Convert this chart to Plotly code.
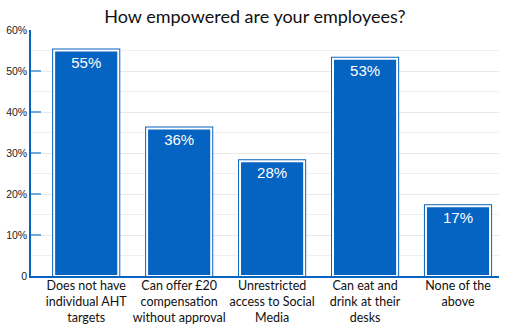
import plotly.graph_objects as go

categories = [
    "Does not have<br>individual AHT<br>targets",
    "Can offer £20<br>compensation<br>without approval",
    "Unrestricted<br>access to Social<br>Media",
    "Can eat and<br>drink at their<br>desks",
    "None of the<br>above",
]
values = [55, 36, 28, 53, 17]
tick_vals = [0, 10, 20, 30, 40, 50, 60]
tick_text = ["0", "10%", "20%", "30%", "40%", "50%", "60%"]

BLUE = "#0563C1"
BAR_W = 0.69

fig = go.Figure()
# outer blue rim
fig.add_trace(go.Bar(
    x=categories, y=values, width=BAR_W,
    marker=dict(color=BLUE, line=dict(color=BLUE, width=4)),
    hoverinfo="skip", showlegend=False,
))
# white inner ring + fill with value label
fig.add_trace(go.Bar(
    x=categories, y=values, width=BAR_W,
    marker=dict(color=BLUE, line=dict(color="white", width=2)),
    text=[f"{v}%" for v in values], textposition="inside",
    insidetextanchor="end",
    textfont=dict(family="Liberation Sans, Arial", size=15, color="white"),
    showlegend=False,
))

fig.update_layout(
    width=510, height=325,
    margin=dict(l=31, r=11, t=30, b=49),
    barmode="overlay",
    plot_bgcolor="white", paper_bgcolor="white",
    title=dict(
        text="How empowered are your employees?",
        x=0.5, xanchor="center", y=0.95, yanchor="middle",
        font=dict(family="Lato, Open Sans, sans-serif", size=18, color="#111111"),
    ),
    xaxis=dict(
        automargin=False, tickangle=0,
        range=[-0.594, 4.441],
        showline=True, linecolor=BLUE, linewidth=1.5,
        tickfont=dict(family="Lato, Open Sans, sans-serif", size=12.5, color="#111111"),
        ticks="", ticklabelstandoff=-3,
    ),
    yaxis=dict(
        automargin=False,
        range=[0, 60],
        tickvals=tick_vals, ticktext=tick_text,
        showline=True, linecolor=BLUE, linewidth=1.5,
        ticks="inside", ticklen=10, tickcolor="#6FA8DC", tickwidth=2,
        showgrid=True, gridcolor="#E8E8E8", gridwidth=1,
        minor=dict(dtick=5, showgrid=True, gridcolor="#F0F0F0", ticks=""),
        tickfont=dict(family="Liberation Sans, Arial", size=10.5, color="#222222"),
        zeroline=False,
    ),
)

fig.write_html("out.html")
